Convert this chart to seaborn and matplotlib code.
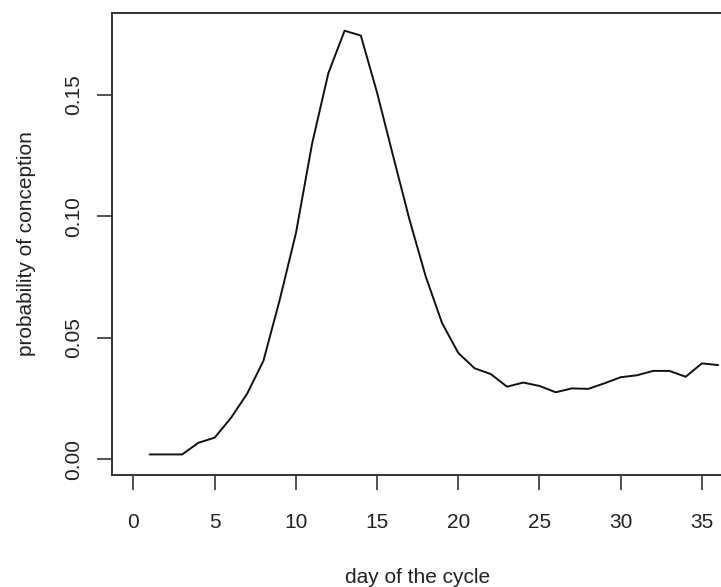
import pandas as pd
import matplotlib
matplotlib.use('Agg')
import matplotlib.pyplot as plt
import seaborn as sns

# values
days = list(range(1, 37))
prob = [0.002, 0.002, 0.002, 0.0068, 0.0089, 0.017, 0.027, 0.0405, 0.0655, 0.093,
        0.130, 0.159, 0.1765, 0.1745, 0.151, 0.1246, 0.0986, 0.0752, 0.0561, 0.0438,
        0.0375, 0.0351, 0.0299, 0.0316, 0.0302, 0.0276, 0.0292, 0.029, 0.0313, 0.0338,
        0.0346, 0.0364, 0.0364, 0.034, 0.0395, 0.0388]
x_ticks = [0, 5, 10, 15, 20, 25, 30, 35]
y_ticks = [0.00, 0.05, 0.10, 0.15]
y_labels = ['0.00', '0.05', '0.10', '0.15']

df = pd.DataFrame({'day': days, 'prob': prob})

sns.set_style('white')
plt.rcParams['font.family'] = ['Liberation Sans', 'DejaVu Sans']

W, H = 721, 587
fig = plt.figure(figsize=(W / 100, H / 100), dpi=100)
# plot box in pixels: left 112, right ~724 (just past the image edge), top 13, bottom 475
ax = fig.add_axes([112 / W, (H - 475) / H, (724 - 112) / W, (475 - 13) / H])

sns.lineplot(x='day', y='prob', data=df, ax=ax, color='#111111', linewidth=1.4)

ax.set_xlim(-1.32, 36.36)
ax.set_ylim(-0.00647, 0.1838)
ax.set_xticks(x_ticks)
ax.set_yticks(y_ticks)
ax.set_yticklabels(y_labels, rotation=90, va='center')

for s in ax.spines.values():
    s.set_color('#333333')
    s.set_linewidth(1.4)

ax.tick_params(axis='both', direction='out', length=11, width=1.2, color='#333333',
               labelsize=15, labelcolor='#222222', bottom=True, left=True)
ax.tick_params(axis='x', pad=16)
ax.tick_params(axis='y', pad=10)

ax.set_xlabel('day of the cycle', fontsize=15, color='#222222', labelpad=26)
ax.set_ylabel('probability of conception', fontsize=15, color='#222222', labelpad=20)

fig.savefig('out.png', dpi=100)
